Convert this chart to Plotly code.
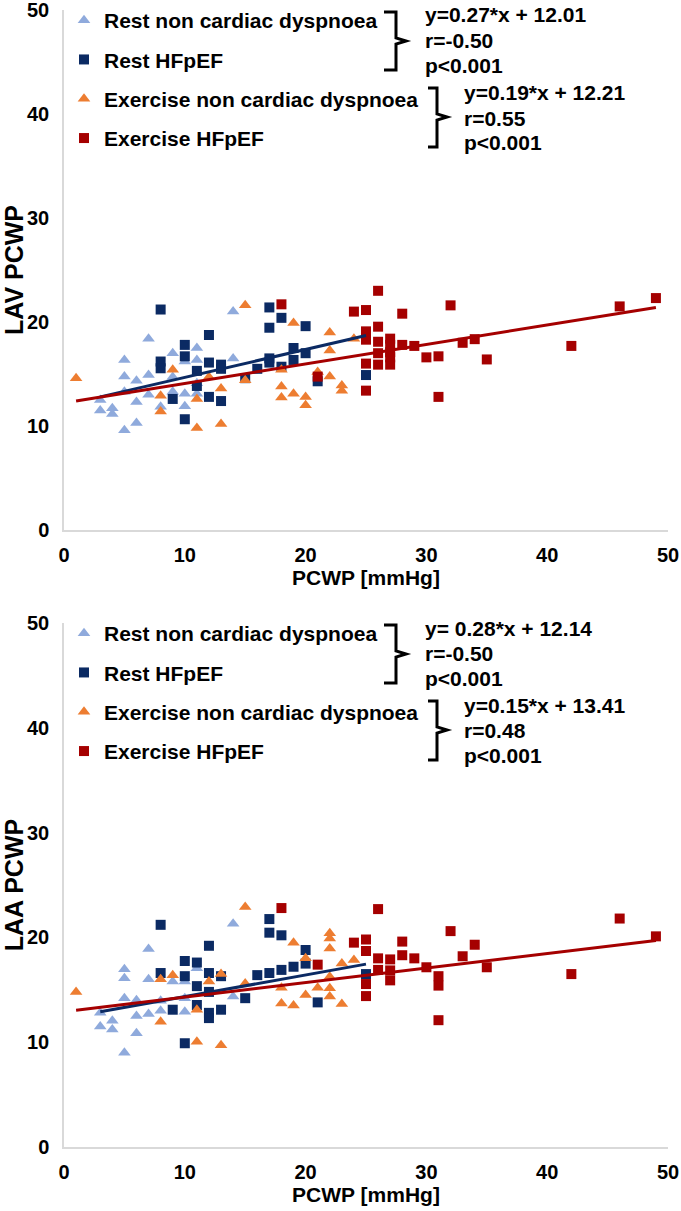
import plotly.graph_objects as go

# ---------------- data ----------------
# Top panel: LAV PCWP
lav_rest_ncd_x = [14, 7, 9, 11, 5, 11, 10, 14, 5, 7, 9, 6, 11, 5, 7, 9, 10, 11, 3, 6, 10, 8, 3, 4, 4, 6, 5]
lav_rest_ncd_y = [21.0, 18.4, 17.0, 17.5, 16.35, 16.35, 16.2, 16.5, 14.75, 14.9, 14.7, 14.35, 14.1, 13.3, 13.0,
                  13.3, 13.1, 13.1, 12.5, 12.3, 11.9, 11.85, 11.5, 11.7, 11.15, 10.3, 9.6]
lav_rest_hf_x = [8, 12, 10, 10, 8, 8, 12, 13, 13, 11, 16, 11, 12, 9, 13, 10, 17, 18, 17, 20, 17, 17, 19, 19, 20,
                 18, 15, 21, 25]
lav_rest_hf_y = [21.2, 18.75, 17.8, 16.7, 16.2, 15.55, 16.1, 15.9, 15.5, 15.3, 15.5, 13.85, 12.8, 12.6, 12.4,
                 10.65, 21.4, 20.4, 19.45, 19.6, 16.5, 16.1, 17.5, 16.35, 17.0, 15.7, 14.6, 14.3, 14.9]
lav_ex_ncd_x = [15, 9, 1, 12, 15, 13, 8, 11, 8, 11, 13, 19, 22, 24, 18, 21, 22, 22, 18, 18, 19, 20, 20, 23, 23]
lav_ex_ncd_y = [21.6, 15.4, 14.6, 14.7, 14.4, 13.6, 12.9, 12.6, 11.4, 9.8, 10.2, 19.9, 19.0, 18.4, 15.4, 15.2,
                14.75, 17.25, 13.8, 12.75, 13.1, 12.8, 12.0, 13.9, 13.4]
lav_ex_hf_x = [18, 26, 24, 25, 28, 32, 25, 26, 25, 26, 27, 27, 27, 27, 27, 28, 29, 26, 30, 31, 25, 26, 21, 25,
               31, 33, 34, 35, 42, 46, 49]
lav_ex_hf_y = [21.7, 23.0, 21.0, 21.15, 20.8, 21.6, 19.1, 19.55, 18.3, 18.1, 18.4, 17.8, 17.1, 16.6, 15.9, 17.8,
               17.7, 17.0, 16.6, 16.7, 16.0, 15.9, 14.75, 13.4, 12.8, 18.0, 18.35, 16.4, 17.7, 21.5, 22.3]
lav_rest_fit_x = [3, 25]
lav_rest_fit_y = [12.8, 18.7]
lav_ex_fit_x = [1, 49]
lav_ex_fit_y = [12.4, 21.4]
lav_rest_stats = ["y=0.27*x + 12.01", "r=-0.50", "p<0.001"]
lav_ex_stats = ["y=0.19*x + 12.21", "r=0.55", "p<0.001"]

# Bottom panel: LAA PCWP
laa_rest_ncd_x = [14, 7, 5, 5, 7, 11, 9, 10, 14, 5, 6, 8, 10, 10, 8, 7, 6, 4, 3, 4, 6, 5, 3]
laa_rest_ncd_y = [21.3, 18.9, 16.95, 16.1, 16.0, 17.05, 15.8, 15.8, 14.35, 14.2, 14.0, 13.96, 14.2, 12.9, 13.0,
                  12.7, 12.5, 12.05, 11.5, 11.2, 10.85, 9.0, 12.8]
laa_rest_hf_x = [8, 12, 10, 11, 8, 10, 12, 13, 11, 12, 16, 15, 11, 9, 12, 12, 13, 10, 17, 17, 18, 20, 20, 19,
                 18, 17, 25, 21]
laa_rest_hf_y = [21.2, 19.2, 17.75, 17.6, 16.6, 16.3, 16.6, 16.3, 15.35, 14.8, 16.4, 14.2, 13.55, 13.1, 12.8,
                 12.3, 13.1, 9.9, 21.75, 20.45, 20.2, 18.8, 17.5, 17.2, 16.9, 16.6, 16.5, 13.8]
laa_ex_ncd_x = [15, 8, 9, 13, 12, 1, 15, 11, 8, 11, 13, 19, 22, 22, 22, 20, 23, 24, 22, 18, 21, 22, 22, 20, 18,
                19, 23]
laa_ex_ncd_y = [22.9, 16.0, 16.4, 16.5, 15.8, 14.8, 15.6, 13.1, 11.95, 10.05, 9.7, 19.5, 20.4, 19.9, 18.95, 18.0,
                17.5, 17.85, 16.25, 15.2, 15.2, 15.15, 14.35, 14.5, 13.7, 13.5, 13.65]
laa_ex_hf_x = [18, 26, 24, 25, 25, 28, 28, 26, 27, 29, 30, 26, 27, 27, 25, 25, 31, 31, 31, 32, 21, 33, 34, 35,
               42, 46, 49]
laa_ex_hf_y = [22.8, 22.7, 19.5, 19.8, 18.7, 19.6, 18.3, 18.0, 17.9, 18.0, 17.15, 16.9, 16.85, 15.9, 15.55, 14.4,
               16.3, 15.4, 12.1, 20.6, 17.4, 18.2, 19.3, 17.15, 16.5, 21.8, 20.1]
laa_rest_fit_x = [3, 25]
laa_rest_fit_y = [12.9, 17.45]
laa_ex_fit_x = [1, 49]
laa_ex_fit_y = [13.05, 19.7]
laa_rest_stats = ["y= 0.28*x + 12.14", "r=-0.50", "p<0.001"]
laa_ex_stats = ["y=0.15*x + 13.41", "r=0.48", "p<0.001"]

series_names = ["Rest non cardiac dyspnoea", "Rest HFpEF", "Exercise non cardiac dyspnoea", "Exercise HFpEF"]
x_ticks = [0, 10, 20, 30, 40, 50]
y_ticks = [0, 10, 20, 30, 40, 50]
x_title = "PCWP [mmHg]"
y_titles = ["LAV PCWP", "LAA PCWP"]

# ---------------- styling ----------------
W, H = 681, 1211
ML, MR, MT, MB = 64, 13, 10, 64
PW, PH = W - ML - MR, H - MT - MB
FONT = "Arial, Liberation Sans, sans-serif"
C_LIGHT = "#8FAADC"
C_NAVY = "#0B2A63"
C_ORANGE = "#ED7D31"
C_RED = "#A50000"
AXIS_GRAY = "#D9D9D9"


def px(xp):
    return (xp - ML) / PW


def py(yp):
    return (H - MB - yp) / PH


fig = go.Figure()

panels = [
    dict(xa="x", ya="y", leg="legend", off=0,
         data=[(lav_rest_ncd_x, lav_rest_ncd_y), (lav_rest_hf_x, lav_rest_hf_y),
               (lav_ex_ncd_x, lav_ex_ncd_y), (lav_ex_hf_x, lav_ex_hf_y)],
         fits=[(lav_rest_fit_x, lav_rest_fit_y), (lav_ex_fit_x, lav_ex_fit_y)],
         stats=[lav_rest_stats, lav_ex_stats]),
    dict(xa="x2", ya="y2", leg="legend2", off=613,
         data=[(laa_rest_ncd_x, laa_rest_ncd_y), (laa_rest_hf_x, laa_rest_hf_y),
               (laa_ex_ncd_x, laa_ex_ncd_y), (laa_ex_hf_x, laa_ex_hf_y)],
         fits=[(laa_rest_fit_x, laa_rest_fit_y), (laa_ex_fit_x, laa_ex_fit_y)],
         stats=[laa_rest_stats, laa_ex_stats]),
]

styles = [("triangle-up", C_LIGHT, 11), ("square", C_NAVY, 10),
          ("triangle-up", C_ORANGE, 11), ("square", C_RED, 10)]

annotations = []
shapes = []
for p in panels:
    for i, ((xs, ys), (sym, col, sz)) in enumerate(zip(p["data"], styles)):
        fig.add_trace(go.Scatter(
            x=xs, y=ys, mode="markers", name=series_names[i],
            marker=dict(symbol=sym, color=col, size=sz, line=dict(width=0)),
            xaxis=p["xa"], yaxis=p["ya"], legend=p["leg"], legendgroup=p["leg"] + str(i),
        ))
    for (fx, fy), col in zip(p["fits"], [C_NAVY, C_RED]):
        fig.add_trace(go.Scatter(
            x=fx, y=fy, mode="lines", line=dict(color=col, width=3),
            xaxis=p["xa"], yaxis=p["ya"], showlegend=False, hoverinfo="skip",
        ))
    o = p["off"]
    # statistics text
    for lines, x0, ys in [(p["stats"][0], 423, [15, 40, 65]), (p["stats"][1], 462, [92, 118, 143])]:
        for t, yy in zip(lines, ys):
            annotations.append(dict(
                text=t, xref="paper", yref="paper", x=px(x0), y=py(yy + o),
                xanchor="left", yanchor="middle", showarrow=False,
                font=dict(family=FONT, size=21, color="black", weight="bold"),
            ))
    # curly brackets
    for (xl, xv, xn, yt, ym, yb) in [(384, 396, 406, 12, 41, 70), (428, 437, 447, 88, 117, 147)]:
        path = (f"M {px(xl)},{py(yt + o)} L {px(xv)},{py(yt + o)} L {px(xv)},{py(ym - 3 + o)} "
                f"L {px(xn)},{py(ym + o)} L {px(xv)},{py(ym + 3 + o)} L {px(xv)},{py(yb + o)} "
                f"L {px(xl)},{py(yb + o)}")
        shapes.append(dict(type="path", xref="paper", yref="paper", path=path,
                           line=dict(color="black", width=3)))

axis_common = dict(
    range=[0, 50], showgrid=False, zeroline=False, showline=True, linecolor=AXIS_GRAY, linewidth=1.5,
    ticks="", tickfont=dict(family=FONT, size=20, color="black", weight="bold"),
    tickmode="array", automargin=False, ticklabeloverflow="allow",
)
title_font = dict(family=FONT, size=21, color="black", weight="bold")
ytitle_font = dict(family=FONT, size=25, color="black", weight="bold")

top_dom = [py(530), 1.0]
bot_dom = [0.0, py(623)]

legend_common = dict(
    x=0.0, xanchor="left", yanchor="top", bgcolor="rgba(0,0,0,0)",
    font=dict(family=FONT, size=21, color="black", weight="bold"),
    traceorder="grouped", tracegroupgap=9, itemclick=False,
)

fig.update_layout(
    width=W, height=H,
    margin=dict(l=ML, r=MR, t=MT, b=MB, autoexpand=False),
    paper_bgcolor="white", plot_bgcolor="white",
    showlegend=True,
    xaxis=dict(**axis_common, tickvals=x_ticks, anchor="y", domain=[0, 1], ticklabelstandoff=6,
               title=dict(text=x_title, standoff=2, font=title_font)),
    yaxis=dict(**axis_common, tickvals=y_ticks, anchor="x", domain=top_dom, ticklabelstandoff=9,
               title=dict(text=y_titles[0], standoff=1, font=ytitle_font)),
    xaxis2=dict(**axis_common, tickvals=x_ticks, anchor="y2", domain=[0, 1], ticklabelstandoff=6,
                title=dict(text=x_title, standoff=2, font=title_font)),
    yaxis2=dict(**axis_common, tickvals=y_ticks, anchor="x2", domain=bot_dom, ticklabelstandoff=9,
                title=dict(text=y_titles[1], standoff=1, font=ytitle_font)),
    legend=dict(**legend_common, y=py(0)),
    legend2=dict(**legend_common, y=py(0 + 613)),
    annotations=annotations,
    shapes=shapes,
)

# the page's default 8px body margin would shift the whole figure; remove it
fig.write_html("out.html", config={"displayModeBar": False},
               post_script="document.body.style.margin='0';")
